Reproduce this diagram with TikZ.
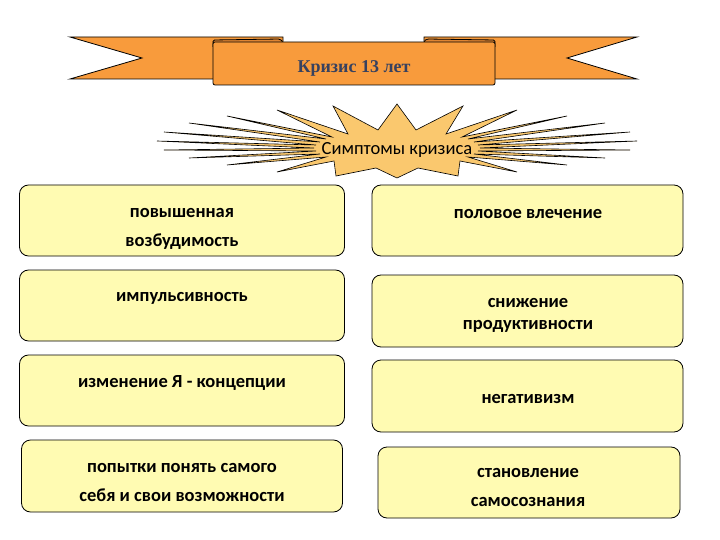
\documentclass[tikz,border=0pt]{standalone}
\usepackage{fontspec}
\setmainfont{Carlito}
\newfontfamily\titlefont{Liberation Serif}
\definecolor{ribbon}{RGB}{248,155,60}
\definecolor{ribbondark}{RGB}{222,132,50}
\definecolor{starfill}{RGB}{250,200,110}
\definecolor{boxfill}{RGB}{255,251,178}
\definecolor{titleblue}{RGB}{55,65,95}
\tikzset{
  cell/.style={draw=black, line width=0.8pt, fill=boxfill, rounded corners=9pt, inner sep=0pt},
  celltext/.style={font=\bfseries\fontsize{18.5}{22}\selectfont, align=center, inner sep=0pt},
  celltextwide/.style={font=\bfseries\fontsize{18.5}{29}\selectfont, align=center, inner sep=0pt},
  band/.style={draw=black, line width=0.8pt, fill=ribbon},
}
\begin{document}
\begin{tikzpicture}[x=1pt,y=-1pt]
\useasboundingbox (0,0) rectangle (720,540);
% ribbon tails
\draw[band] (70,37) -- (283,37) -- (283,79) -- (70,79) -- (142,58) -- cycle;
\draw[band] (424,37) -- (637,37) -- (567,58) -- (637,79) -- (424,79) -- cycle;
% folds
\draw[band, fill=ribbondark, rounded corners=1.5pt] (213,47) -- (213,40) -- (280,39) -- (283,42) -- (283,47);
\draw[band, fill=ribbondark, rounded corners=1.5pt] (424,47) -- (424,41) -- (427,39) -- (495,40) -- (495,47);
% main band
\node[band, rounded corners=2pt, minimum width=282pt, minimum height=43pt, inner sep=0pt] (titleband) at (354,63.5) {};
\node[font=\titlefont\bfseries\fontsize{18}{20}\selectfont, text=titleblue, inner sep=0pt] (title) at (354,68) {Кризис 13 лет};
% star
\draw[draw=black, line width=0.6pt, fill=starfill, line join=miter]
  (397,104) -- (416,130) -- (463,106) -- (446,134)
  -- (517,110) -- (462,137) -- (567,116) -- (468,139) -- (605,123) -- (474,142)
  -- (630,132) -- (478,145) -- (637,141) -- (480,148) -- (630,150) -- (478,151)
  -- (605,158) -- (474,154) -- (567,165) -- (468,157) -- (517,172) -- (460,161)
  -- (458,176) -- (418,168) -- (397,178) -- (376,168)
  -- (336,176) -- (334,161) -- (277,172) -- (326,157) -- (227,165) -- (320,154)
  -- (189,158) -- (316,151) -- (164,150) -- (314,148) -- (157,141) -- (316,145)
  -- (164,132) -- (320,142) -- (189,123) -- (326,139) -- (227,116) -- (332,137)
  -- (277,110) -- (348,134) -- (333,106) -- (378,130) -- cycle;
\node[font=\fontsize{18.5}{20}\selectfont, inner sep=0pt] (sympt) at (397,150) {Симптомы кризиса};
% boxes left
\node[cell, minimum width=325pt, minimum height=71pt] (l1) at (182,220.5) {};
\node[cell, minimum width=325pt, minimum height=71pt] (l2) at (182,305.5) {};
\node[cell, minimum width=325pt, minimum height=71pt] (l3) at (182,390.5) {};
\node[cell, minimum width=321pt, minimum height=72pt] (l4) at (182,476) {};
% boxes right
\node[cell, minimum width=311pt, minimum height=71pt] (r1) at (527.5,220.5) {};
\node[cell, minimum width=311pt, minimum height=72pt] (r2) at (527.5,311) {};
\node[cell, minimum width=311pt, minimum height=72pt] (r3) at (527.5,396) {};
\node[cell, minimum width=302pt, minimum height=71pt] (r4) at (529,482.5) {};
% texts
\node[celltextwide] (t1) at (182,228.5) {повышенная\\возбудимость};
\node[celltext] (t2) at (182,298) {импульсивность};
\node[celltext] (t3) at (182,383) {изменение Я - концепции};
\node[celltextwide] (t4) at (182,482) {попытки понять самого\\себя и свои возможности};
\node[celltext] (t5) at (528,214) {половое влечение};
\node[celltext] (t6) at (528,315) {снижение\\продуктивности};
\node[celltext] (t7) at (528,399) {негативизм};
\node[celltextwide] (t8) at (528,487) {становление\\самосознания};
\end{tikzpicture}
\end{document}
